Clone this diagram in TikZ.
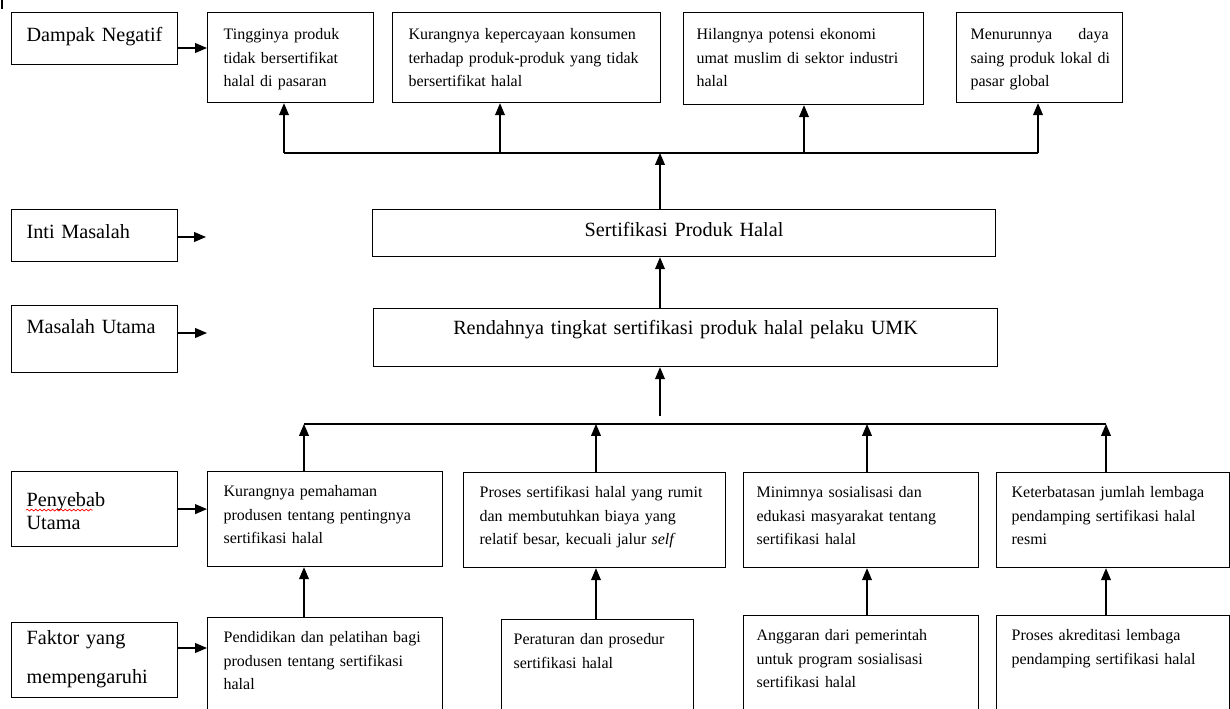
\documentclass[tikz,border=0pt]{standalone}
\usepackage{fontspec}
\setmainfont{Liberation Serif}
\usetikzlibrary{calc,arrows.meta,decorations.pathmorphing}
\newcommand{\hurufbesar}{\fontsize{11.5}{13}\selectfont}
\newcommand{\hurufkecil}{\fontsize{9.1}{13.4}\selectfont}

\begin{document}
\begin{tikzpicture}[x=0.02cm, y=-0.02cm,
		kotak/.style={draw, line width=0.7pt, anchor=north west, inner ysep=0pt, align=left},
		kiri/.style={kotak, font=\hurufbesar, inner xsep=0.30cm, text width=2.72cm},
		isi/.style={kotak, font=\hurufkecil, inner xsep=0.32cm},
		atas/.style={isi, text height=0.54cm, text depth=1.26cm},
		sebab/.style={isi, text height=0.50cm, text depth=1.40cm},
		faktor/.style={isi, text height=0.50cm, text depth=3.00cm},
		tengah/.style={kotak, font=\hurufbesar, inner xsep=0pt, align=center},
		garis/.style={line width=0.7pt},
		panah/.style={line width=0.7pt, -{Triangle[length=6.8pt, width=5.6pt]}}]
			%%%%% START %%%%%
			\useasboundingbox (0,0) rectangle (1230,709);
			\clip (0,0) rectangle (1230,709);
			
			\draw[garis] (2,0) -- (2,9);
			
			% label kiri
			\node[kiri, text height=0.58cm, text depth=0.46cm] (lDampak) at (11,12) {Dampak Negatif};
			\node[kiri, text height=0.58cm, text depth=0.46cm] (lInti) at (11,209) {Inti Masalah};
			\node[kiri, text height=0.56cm, text depth=0.78cm] (lMasalah) at (11,305) {Masalah Utama};
			\node[kiri, text height=0.70cm, text depth=0.80cm] (lPenyebab) at (11,471) {Penyebab\\Utama};
			\node[kiri, text height=0.44cm, text depth=1.06cm, font=\fontsize{11.5}{22.1}\selectfont] (lFaktor) at (11,622) {Faktor yang\\mempengaruhi};
			
			\draw[red, line width=0.4pt, decorate, decoration={snake, amplitude=0.5pt, segment length=2.4pt}] ($(lPenyebab.base west)+(15,3.5)$) -- ++(67,0);
			
			% dampak negatif
			\node[atas, text width=2.68cm] (d1) at (207,12) {Tingginya produk\\tidak bersertifikat\\halal di pasaran};
			\node[atas, text width=4.72cm] (d2) at (392,12) {Kurangnya kepercayaan konsumen\\terhadap produk-produk yang tidak\\bersertifikat halal};
			\node[atas, text width=4.28cm, inner xsep=0.26cm, text depth=1.30cm] (d3) at (683,12) {Hilangnya potensi ekonomi\\umat muslim di sektor industri\\halal};
			\node[atas, text width=2.76cm, inner xsep=0.28cm] (d4) at (956,12) {Menurunnya\hfill daya\\\mbox{saing produk lokal di}\\pasar global};
			
			% inti dan masalah utama
			\node[tengah, text width=12.46cm, text height=0.54cm, text depth=0.40cm] (sert) at (372,209) {Sertifikasi Produk Halal};
			\node[tengah, text width=12.48cm, text height=0.52cm, text depth=0.64cm] (rend) at (373,308) {Rendahnya tingkat sertifikasi produk halal pelaku UMK};
			
			% penyebab utama
			\node[sebab, text width=4.06cm] (k1) at (207,471) {Kurangnya pemahaman\\produsen tentang pentingnya\\sertifikasi halal};
			\node[sebab, text width=4.60cm] (k2) at (463,472) {Proses sertifikasi halal yang rumit\\dan membutuhkan biaya yang\\relatif besar, kecuali jalur \textit{self}};
			\node[sebab, text width=4.18cm, inner xsep=0.26cm] (k3) at (743,472) {Minimnya sosialisasi dan\\edukasi masyarakat tentang\\sertifikasi halal};
			\node[sebab, text width=4.06cm, inner xsep=0.30cm] (k4) at (996,472) {Keterbatasan jumlah lembaga\\pendamping sertifikasi halal\\resmi};
			
			% faktor yang mempengaruhi
			\node[faktor, text width=4.06cm] (f1) at (207,617) {Pendidikan dan pelatihan bagi\\produsen tentang sertifikasi\\halal};
			\node[faktor, text width=3.36cm, inner xsep=0.24cm] (f2) at (501,619) {Peraturan dan prosedur\\sertifikasi halal};
			\node[faktor, text width=4.18cm, inner xsep=0.26cm] (f3) at (743,615) {Anggaran dari pemerintah\\untuk program sosialisasi\\sertifikasi halal};
			\node[faktor, text width=4.06cm, inner xsep=0.30cm] (f4) at (996,615) {Proses akreditasi lembaga\\pendamping sertifikasi halal};
			
			% panah dari label
			\coordinate (aD) at (0,48);
			\coordinate (aF) at (0,648);
			\coordinate (eInti) at (206,237);
			\coordinate (eMasalah) at (207,333);
			\draw[panah] (lDampak.east |- aD) -- (d1.west |- aD);
			\draw[panah] (lInti.east |- eInti) -- (eInti);
			\draw[panah] (lMasalah.east |- eMasalah) -- (eMasalah);
			\draw[panah] (lPenyebab.east) -- (lPenyebab.east -| k1.west);
			\draw[panah] (lFaktor.east |- aF) -- (f1.west |- aF);
			
			% garis atas
			\coordinate (t1) at (284,153);
			\coordinate (t2) at (500,153);
			\coordinate (t3) at (804,153);
			\coordinate (t4) at (1038,153);
			\coordinate (tm) at (660,153);
			\draw[garis] (t1) -- (t4);
			\foreach \n/\c in {d1/t1, d2/t2, d3/t3, d4/t4}
				\draw[panah] (\c) -- (\c |- \n.south);
			\draw[panah] (sert.north -| tm) -- (tm);
			\draw[panah] (rend.north -| tm) -- (sert.south -| tm);
			\coordinate (bm) at (660,416);
			\draw[panah] (bm) -- (rend.south -| bm);
			
			% garis bawah
			\coordinate (c1) at (304,424);
			\coordinate (c2) at (596,424);
			\coordinate (c3) at (867,424);
			\coordinate (c4) at (1106,424);
			\draw[garis] (c1) -- (c4);
			\foreach \k/\f/\c in {k1/f1/c1, k2/f2/c2, k3/f3/c3, k4/f4/c4} {
				\draw[panah] (\c |- \k.north) -- (\c);
				\draw[panah] (\c |- \f.north) -- (\c |- \k.south);
			}
			%%%%% END %%%%%
\end{tikzpicture}
\end{document}
